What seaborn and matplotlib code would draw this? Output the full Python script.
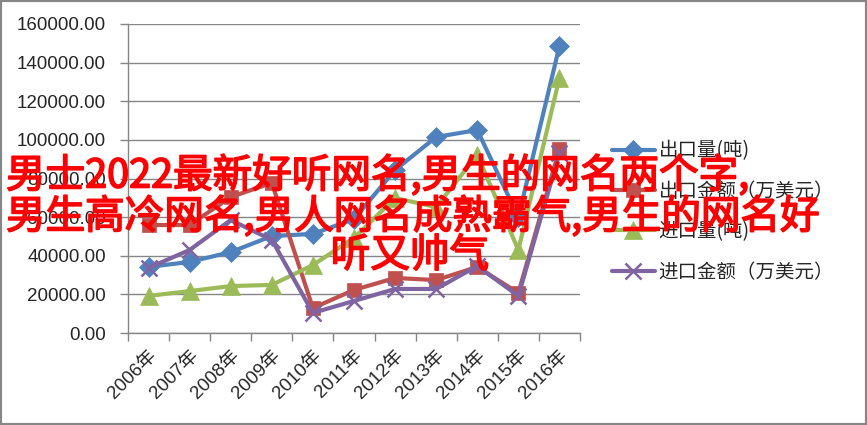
import matplotlib
matplotlib.use('Agg')
import matplotlib.pyplot as plt
import matplotlib.patheffects as pe
from matplotlib.patches import Rectangle
from matplotlib.ticker import FixedLocator, FuncFormatter
import pandas as pd
import seaborn as sns

# data
years = ['2006年', '2007年', '2008年', '2009年', '2010年', '2011年',
         '2012年', '2013年', '2014年', '2015年', '2016年']
export_qty = [34200, 36800, 41900, 50200, 51300, 59000, 84400, 101500, 105100, 60000, 148600]
export_amt = [55900, 55900, 70400, 77700, 12900, 22300, 28500, 27400, 34200, 20700, 95300]
import_qty = [19200, 21700, 24300, 24900, 35200, 49200, 69900, 65200, 92200, 43000, 132000]
import_amt = [33700, 43000, 58500, 48200, 10400, 16600, 22800, 22800, 34700, 19200, 93200]
series_names = ['出口量(吨)', '出口金额（万美元）', '进口量(吨)', '进口金额（万美元）']
overlay_lines = ['男士2022最新好听网名,男生的网名两个字,',
                 '男生高冷网名,男人网名成熟霸气,男生的网名好',
                 '听又帅气']

df = pd.DataFrame({'x': list(range(len(years))),
                   series_names[0]: export_qty,
                   series_names[1]: export_amt,
                   series_names[2]: import_qty,
                   series_names[3]: import_amt})

sns.set_theme(style='white')
plt.rcParams['font.family'] = ['Liberation Sans', 'Noto Sans CJK SC', 'DejaVu Sans']

fig = plt.figure(figsize=(8.67, 4.25), dpi=100)
ax = fig.add_axes([128 / 867, 1 - 333 / 425, (580 - 128) / 867, (333 - 24) / 425])

colors = ['#4F81BD', '#C0504D', '#9BBB59', '#8064A2']
markers = ['D', 's', '^', 'x']
msizes = [10, 10.5, 13, 11]

for name, c, m, ms in zip(series_names, colors, markers, msizes):
    sns.lineplot(data=df, x='x', y=name, ax=ax, color=c, linewidth=3,
                 marker=m, markersize=ms, markeredgecolor=c,
                 markeredgewidth=1.8 if m == 'x' else 0.5, label=name)

ax.set_xlim(-0.5, len(years) - 0.5)
ax.set_ylim(0, 160000)
ax.set_yticks(range(0, 160001, 20000))
ax.yaxis.set_major_formatter(FuncFormatter(lambda v, p: f'{v:.2f}'))
ax.grid(axis='y', color='#868686', linewidth=1)
ax.set_axisbelow(True)

ax.xaxis.set_major_locator(FixedLocator([i - 0.5 for i in range(len(years) + 1)]))
ax.xaxis.set_minor_locator(FixedLocator(list(range(len(years)))))
ax.set_xticklabels([])
ax.set_xticklabels(years, minor=True, rotation=45, ha='right', va='top',
                   rotation_mode='anchor', fontsize=13.5)
ax.tick_params(axis='x', which='major', direction='out', length=6, width=1,
               color='#868686', bottom=True)
ax.tick_params(axis='x', which='minor', length=0, pad=10)
ax.tick_params(axis='y', direction='out', length=6, width=1, color='#868686',
               left=True, labelsize=13.5, pad=10)
ax.set_xlabel('')
ax.set_ylabel('')

for s in ['top', 'right']:
    ax.spines[s].set_visible(False)
for s in ['left', 'bottom']:
    ax.spines[s].set_color('#868686')
    ax.spines[s].set_linewidth(1)

ax.legend(loc='center left', bbox_to_anchor=(612 / 867, 1 - 211.5 / 425),
          bbox_transform=fig.transFigure, frameon=False, borderpad=0,
          borderaxespad=0, handlelength=2.2, handletextpad=0.2,
          labelspacing=1.0, prop={'family': ['Noto Sans CJK SC'], 'size': 14,
                                  'weight': 'light'})

# outer chart border
fig.patches.append(Rectangle((0, 0), 1, 1, transform=fig.transFigure,
                             fill=False, edgecolor='#868686', linewidth=3))

# red overlay text
cjk = ['Noto Sans CJK SC', 'DejaVu Sans']
thick = [pe.withStroke(linewidth=1.2, foreground='#FF0000')]
fig.text(6 / 867, 1 - 176 / 425, overlay_lines[0], color='#FF0000', fontsize=28.5,
         family=cjk, ha='left', va='center', path_effects=thick)
fig.text(6 / 867, 1 - 217 / 425, overlay_lines[1], color='#FF0000', fontsize=28.5,
         family=cjk, ha='left', va='center', path_effects=thick)
fig.text(410 / 867, 1 - 256 / 425, overlay_lines[2], color='#FF0000', fontsize=28.5,
         family=cjk, ha='center', va='center', path_effects=thick)

fig.savefig('out.png', dpi=100)
